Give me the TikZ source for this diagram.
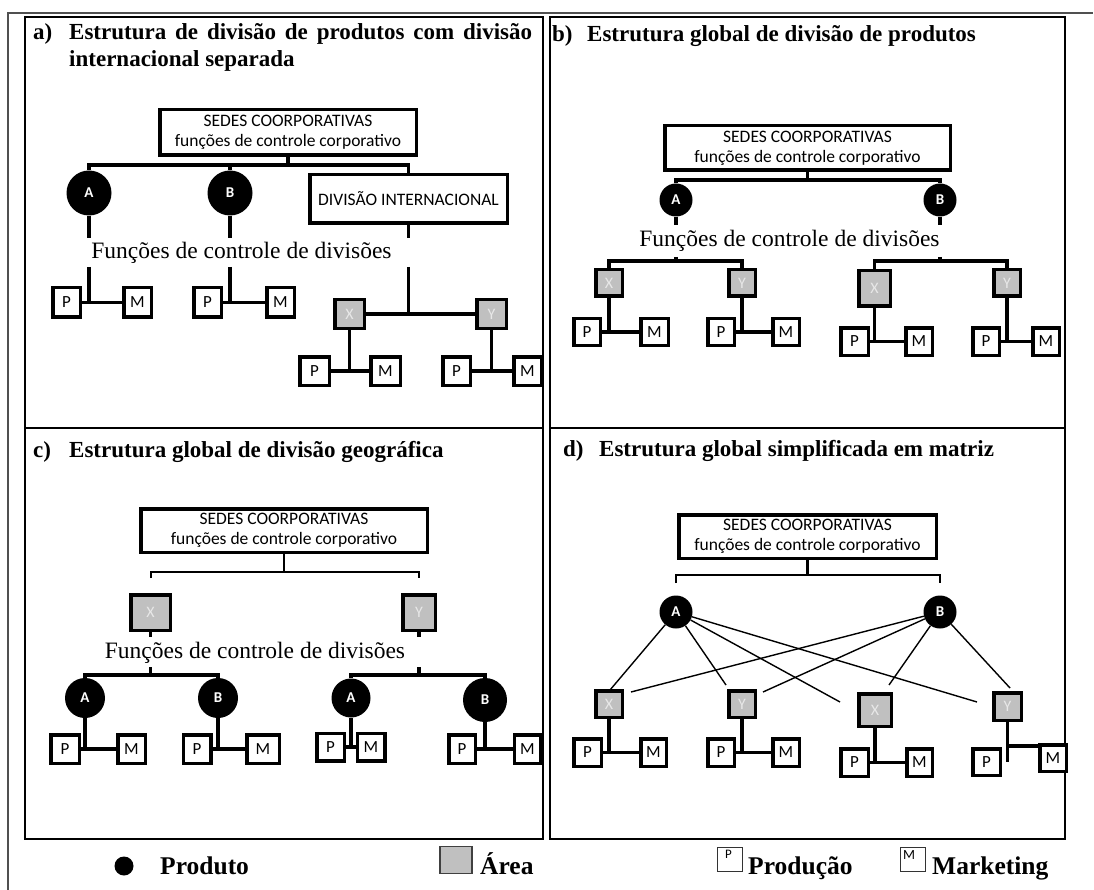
\documentclass[tikz,border=0pt]{standalone}
\usepackage{fontspec}
\setmainfont{Liberation Serif}
\newfontfamily\calfont{Carlito}
\definecolor{areagray}{HTML}{C0C0C0}
\definecolor{arealabel}{HTML}{E8E8E8}
\definecolor{framegray}{HTML}{505050}
\tikzset{
  panel/.style={draw=black, line width=2pt},
  hq/.style={draw, line width=3.5pt, fill=white, inner sep=0pt, align=center, font=\calfont\fontsize{17.5}{20}\selectfont},
  prod/.style={circle, fill=black, inner sep=0pt, text=white, font=\calfont\bfseries\fontsize{15}{15}\selectfont},
  area/.style={draw, line width=3.5pt, fill=areagray, inner sep=0pt, text=arealabel, font=\calfont\fontsize{16}{16}\selectfont},
  pm/.style={draw, line width=3.5pt, fill=white, inner sep=0pt, font=\calfont\fontsize{17}{17}\selectfont},
  ob/.style 2 args={minimum width={#1-3.5}, minimum height={#2-3.5}},
  conn/.style={line width=3.2pt},
  thinconn/.style={line width=2.4pt},
  mline/.style={line width=1.4pt},
  fx/.style={inner sep=0pt, anchor=base, font=\fontsize{23.5}{24}\selectfont},
  ttl/.style={anchor=base west, inner sep=0pt, font=\bfseries\fontsize{23}{26}\selectfont},
  lg/.style={anchor=base west, inner sep=0pt, font=\bfseries\fontsize{25.5}{26}\selectfont},
  lgbox/.style={draw=black!80, line width=1.3pt, fill=white, minimum width=25, minimum height=24, inner sep=0pt}
}
\begin{document}
\begin{tikzpicture}[x=1pt,y=-1pt]
\useasboundingbox (0,0) rectangle (1094,890);
\fill[white] (0,0) rectangle (1094,890);
% outer frame
\draw[framegray, line width=1.5pt] (8,890) -- (8,13) -- (1093,13);
% panels
\draw[panel] (25,17) rectangle (543,428);
\draw[panel] (550,17) rectangle (1065,428);
\draw[panel] (25,428) rectangle (543,839);
\draw[panel] (550,428) rectangle (1065,839);

% ---------------- titles
\node[ttl] (Ta) at (33,40) {a)};
\node[ttl] (Ta1) at (69,40) {\makebox[463pt][s]{Estrutura de divisão de produtos com divisão}};
\node[ttl] (Ta2) at (69,67) {internacional separada};
\node[ttl] (Tb) at (552,42) {b)};
\node[ttl] (Tb1) at (587,42) {Estrutura global de divisão de produtos};
\node[ttl] (Tc) at (33,457) {c)};
\node[ttl] (Tc1) at (69,457) {Estrutura global de divisão geográfica};
\node[ttl] (Td) at (563,456) {d)};
\node[ttl] (Td1) at (599,456) {Estrutura global simplificada em matriz};

% ---------------- panel a
\node[hq, ob={260}{49}] (Ha) at (288,132.5) {SEDES COORPORATIVAS\\funções de controle corporativo};
\coordinate (ha) at (288,165);
\node[prod, minimum size=45] (Aa) at (89,193) {A};
\node[prod, minimum size=45] (Ba) at (230,193) {B};
\node[hq, ob={201}{52}] (Da) at (408.5,199) {DIVISÃO INTERNACIONAL};
\draw[conn] (Ha) -- (ha);
\draw[conn] (Aa) |- (ha) -| (Da);
\draw[conn] (Ba) -- (Ba |- ha);
\node[fx] (Fa) at (241.5,259) {Funções de controle de divisões};
\coordinate (ta) at (0,238);
\coordinate (ua) at (0,267);
\draw[conn] (Aa) -- (Aa |- ta);
\draw[conn] (Ba) -- (Ba |- ta);
\draw[conn] (Da) -- (Da |- ta);
\node[pm, ob={31}{33}] (Pa1) at (66.5,302.5) {P};
\node[pm, ob={31}{33}] (Ma1) at (137.5,302.5) {M};
\node[pm, ob={31}{33}] (Pa2) at (207.5,302.5) {P};
\node[pm, ob={31}{33}] (Ma2) at (280.5,302.5) {M};
\draw[conn] (Pa1) -- (Ma1);
\draw[conn] (Aa |- ua) -- (Aa |- Pa1);
\draw[conn] (Pa2) -- (Ma2);
\draw[conn] (Ba |- ua) -- (Ba |- Pa2);
\node[area, ob={33}{32}] (Xa) at (349.5,314) {X};
\node[area, ob={33}{32}] (Ya) at (491.5,314) {Y};
\draw[conn] (Xa) -- (Ya);
\draw[conn] (Da |- ua) -- (Da |- Xa);
\node[pm, ob={33}{32}] (Pa3) at (314.5,371) {P};
\node[pm, ob={33}{32}] (Ma3) at (385.5,371) {M};
\node[pm, ob={31}{32}] (Pa4) at (456.5,371) {P};
\node[pm, ob={31}{32}] (Ma4) at (527.5,371) {M};
\draw[conn] (Pa3) -- (Ma3);
\draw[conn] (Xa) -- (Xa |- Pa3);
\draw[conn] (Pa4) -- (Ma4);
\draw[conn] (Ya) -- (Ya |- Pa4);

% ---------------- panel b
\node[hq, ob={289}{48}] (Hb) at (807.5,148) {SEDES COORPORATIVAS\\funções de controle corporativo};
\coordinate (hb) at (807.5,180);
\node[prod, minimum size=33] (Ab) at (676,200) {A};
\node[prod, minimum size=33] (Bb) at (940,200) {B};
\draw[conn] (Hb) -- (hb);
\draw[conn] (Ab) |- (hb) -| (Bb);
\node[fx] (Fb) at (789.5,247) {Funções de controle de divisões};
\coordinate (tb) at (0,225);
\coordinate (ub) at (0,257);
\draw[conn] (Ab) -- (Ab |- tb);
\draw[conn] (Bb) -- (Bb |- tb);
\coordinate (vb1) at (676,261);
\coordinate (vb2) at (940,261);
\node[area, ob={30}{30}] (Xb1) at (609,283) {X};
\node[area, ob={30}{30}] (Yb1) at (742,283) {Y};
\node[area, ob={35}{39}] (Xb2) at (874.5,288.5) {X};
\node[area, ob={30}{30}] (Yb2) at (1007,283) {Y};
\draw[conn] (Ab |- ub) -- (vb1);
\draw[conn] (Xb1) |- (vb1) -| (Yb1);
\draw[conn] (Bb |- ub) -- (vb2);
\draw[conn] (Xb2) |- (vb2) -| (Yb2);
\node[pm, ob={30}{30}] (Pb1) at (587,332) {P};
\node[pm, ob={31}{30}] (Mb1) at (654.5,332) {M};
\node[pm, ob={30}{30}] (Pb2) at (721,332) {P};
\node[pm, ob={30}{30}] (Mb2) at (786,332) {M};
\node[pm, ob={31}{31}] (Pb3) at (854.5,341.5) {P};
\node[pm, ob={30}{31}] (Mb3) at (919,341.5) {M};
\node[pm, ob={30}{31}] (Pb4) at (986,341.5) {P};
\node[pm, ob={30}{31}] (Mb4) at (1046,341.5) {M};
\draw[conn] (Pb1) -- (Mb1);
\draw[conn] (Xb1) -- (Xb1 |- Pb1);
\draw[conn] (Pb2) -- (Mb2);
\draw[conn] (Yb1) -- (Yb1 |- Pb2);
\draw[conn] (Pb3) -- (Mb3);
\draw[conn] (Xb2) -- (Xb2 |- Pb3);
\draw[conn] (Pb4) -- (Mb4);
\draw[conn] (Yb2) -- (Yb2 |- Pb4);

% ---------------- panel c
\node[hq, ob={290}{47}] (Hc) at (284,530.5) {SEDES COORPORATIVAS\\funções de controle corporativo};
\coordinate (hc) at (284,572);
\coordinate (kc1) at (151,578);
\coordinate (kc2) at (419,578);
\draw[thinconn] (Hc) -- (hc);
\draw[thinconn] (kc1) |- (hc) -| (kc2);
\node[area, ob={43}{39}] (Xc) at (150.5,612.5) {X};
\node[area, ob={36}{39}] (Yc) at (419,612.5) {Y};
\node[fx] (Fc) at (255,658) {Funções de controle de divisões};
\coordinate (tc) at (0,637);
\coordinate (uc) at (0,667);
\draw[conn] (Xc) -- (Xc |- tc);
\draw[conn] (Yc) -- (Yc |- tc);
\coordinate (vc1) at (150.5,675);
\coordinate (vc2) at (419,675);
\node[prod, minimum size=40] (Ac1) at (85,698) {A};
\node[prod, minimum size=40] (Bc1) at (218,698) {B};
\node[prod, minimum size=39] (Ac2) at (351,698) {A};
\node[prod, minimum size=44] (Bc2) at (485,700) {B};
\draw[conn] (Xc |- uc) -- (vc1);
\draw[conn] (Ac1) |- (vc1) -| (Bc1);
\draw[conn] (Yc |- uc) -- (vc2);
\draw[conn] (Ac2) |- (vc2) -| (Bc2);
\node[pm, ob={32}{32}] (Pc1) at (65,749) {P};
\node[pm, ob={31}{32}] (Mc1) at (131.5,749) {M};
\node[pm, ob={31}{32}] (Pc2) at (197,749) {P};
\node[pm, ob={36}{32}] (Mc2) at (263,749) {M};
\node[pm, ob={31}{31}] (Pc3) at (330.5,747) {P};
\node[pm, ob={31}{31}] (Mc3) at (371,747) {M};
\node[pm, ob={30}{32}] (Pc4) at (462,749) {P};
\node[pm, ob={30}{32}] (Mc4) at (527.5,749) {M};
\draw[conn] (Pc1) -- (Mc1);
\draw[conn] (Ac1) -- (Ac1 |- Pc1);
\draw[conn] (Pc2) -- (Mc2);
\draw[conn] (Bc1) -- (Bc1 |- Pc2);
\draw[conn] (Pc3) -- (Mc3);
\draw[conn] (Ac2) -- (Ac2 |- Pc3);
\draw[conn] (Pc4) -- (Mc4);
\draw[conn] (Bc2) -- (Bc2 |- Pc4);

% ---------------- panel d
\node[hq, ob={261}{47}] (Hd) at (807.5,536.5) {SEDES COORPORATIVAS\\funções de controle corporativo};
\coordinate (hd) at (807.5,575);
\coordinate (kd1) at (676,583);
\coordinate (kd2) at (940,583);
\draw[thinconn] (Hd) -- (hd);
\draw[thinconn] (kd1) |- (hd) -| (kd2);
\node[prod, minimum size=33] (Ad) at (676,612) {A};
\node[prod, minimum size=33] (Bd) at (940,612) {B};
\node[area, ob={30}{30}] (X1d) at (609,704) {X};
\node[area, ob={30}{30}] (Y1d) at (742,704) {Y};
\node[area, ob={36}{36}] (X2d) at (875,710) {X};
\node[area, ob={31}{31}] (Y2d) at (1007.5,706.5) {Y};
\coordinate (da1) at (610,690);
\coordinate (da2) at (726,685);
\coordinate (da3) at (840,702);
\coordinate (da4) at (977,702);
\coordinate (db1) at (631,692);
\coordinate (db2) at (763,692);
\coordinate (db3) at (889,685);
\coordinate (db4) at (1010,688);
\draw[mline] (Ad) -- (da1);
\draw[mline] (Ad) -- (da2);
\draw[mline] (Ad) -- (da3);
\draw[mline] (Ad) -- (da4);
\draw[mline] (Bd) -- (db1);
\draw[mline] (Bd) -- (db2);
\draw[mline] (Bd) -- (db3);
\draw[mline] (Bd) -- (db4);
\node[pm, ob={31}{31}] (P1d) at (587.5,752.5) {P};
\node[pm, ob={29}{31}] (M1d) at (653.5,752.5) {M};
\node[pm, ob={30}{31}] (P2d) at (721,752.5) {P};
\node[pm, ob={30}{31}] (M2d) at (786,752.5) {M};
\node[pm, ob={31}{31}] (P3d) at (854.5,762.5) {P};
\node[pm, ob={29}{31}] (M3d) at (919.5,762.5) {M};
\node[pm, ob={31}{30}] (P4d) at (986.5,762) {P};
\node[pm, ob={30}{30}] (M4d) at (1053,758) {M};
\draw[conn] (P1d) -- (M1d);
\draw[conn] (X1d) -- (X1d |- P1d);
\draw[conn] (P2d) -- (M2d);
\draw[conn] (Y1d) -- (Y1d |- P2d);
\draw[conn] (P3d) -- (M3d);
\draw[conn] (X2d) -- (X2d |- P3d);
\coordinate (e4) at (1009,762);
\coordinate (hy) at (0,746);
\draw[conn] (Y2d) -- (Y2d |- e4);
\draw[conn] (Y2d |- hy) -- (M4d.west |- hy);

% ---------------- legend
\node[circle, fill=black, minimum width=18, minimum height=19, inner sep=0pt] (Lp) at (124,866) {};
\node[lg] (Lpt) at (160,874) {Produto};
\node[draw=black!75, line width=1.5pt, fill=areagray, minimum width=32, minimum height=27, inner sep=0pt] (La) at (456,860) {};
\node[lg] (Lat) at (480,874) {Área};
\node[lgbox] (Lpb) at (730,859.5) {};
\node[anchor=north west, inner sep=0pt, font=\calfont\fontsize{13}{13}\selectfont] (Lpl) at ([xshift=8pt,yshift=-3pt]Lpb.north west) {P};
\node[lg] (Lpbt) at (748,874) {Produção};
\node[lgbox] (Lmb) at (913,859.5) {};
\node[anchor=north west, inner sep=0pt, font=\calfont\fontsize{14}{14}\selectfont] (Lml) at ([xshift=3pt,yshift=-3pt]Lmb.north west) {M};
\node[lg] (Lmbt) at (932,874) {Marketing};
\end{tikzpicture}
\end{document}
